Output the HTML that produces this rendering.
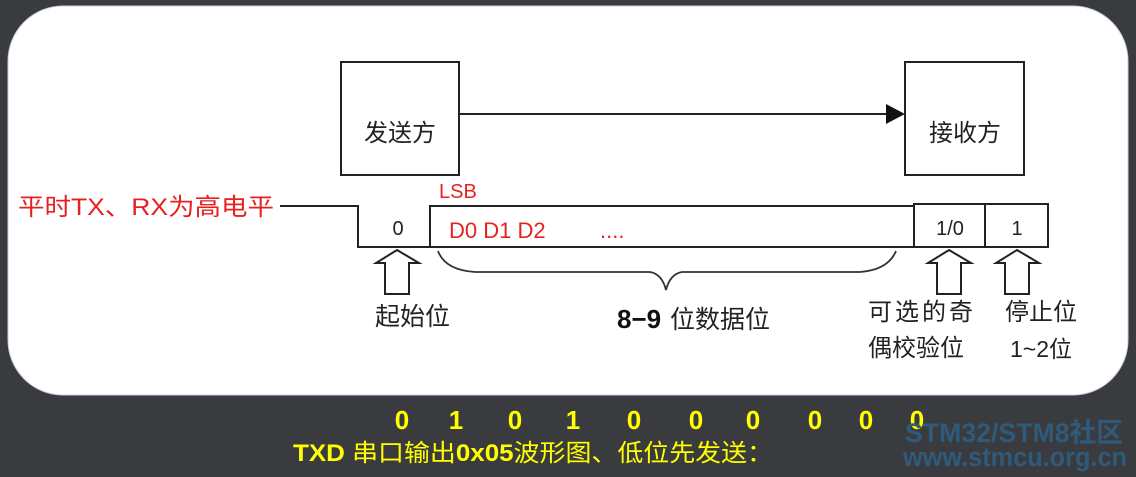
<!DOCTYPE html>
<html><head><meta charset="utf-8"><style>
html,body{margin:0;padding:0;background:#3a3b3f;width:1136px;height:477px;overflow:hidden}
svg{display:block}
text{font-family:"Liberation Sans","Noto Sans CJK SC",sans-serif}
</style></head><body>
<svg width="1136" height="477" viewBox="0 0 1136 477" xmlns="http://www.w3.org/2000/svg">
<rect x="0" y="0" width="1136" height="477" fill="#3a3b3f"/>
<rect x="8" y="6" width="1120" height="389" rx="55" ry="55" fill="#ffffff" stroke="#c8d0dc" stroke-width="1"/>
<g fill="none" stroke="#222" stroke-width="2">
<rect x="341" y="62" width="118" height="113"/>
<rect x="905" y="62" width="119" height="113"/>
<line x1="459" y1="114" x2="888" y2="114"/>
</g>
<polygon points="886,104 905,114 886,124" fill="#111"/>
<text x="400" y="141" font-size="24" text-anchor="middle" fill="#222">发送方</text>
<text x="965" y="141" font-size="24" text-anchor="middle" fill="#222">接收方</text>
<g fill="none" stroke="#222" stroke-width="2">
<polyline points="280,206 358,206 358,247 914,247"/>
<polyline points="430,247 430,206 914,206 914,247"/>
<rect x="914" y="204" width="71" height="43"/>
<rect x="985" y="204" width="63" height="43"/>
</g>
<text x="18" y="215" font-size="24" fill="#e82020" textLength="256" lengthAdjust="spacingAndGlyphs">平时TX、RX为高电平</text>
<text x="439" y="198" font-size="20" fill="#e82020">LSB</text>
<text x="449" y="238" font-size="22" fill="#e82020">D0 D1 D2</text>
<text x="600" y="238" font-size="22" fill="#e82020">....</text>
<text x="398" y="235" font-size="20" text-anchor="middle" fill="#222" font-family="Liberation Serif">0</text>
<text x="950" y="235" font-size="20" text-anchor="middle" fill="#222" font-family="Liberation Serif">1/0</text>
<text x="1017" y="235" font-size="20" text-anchor="middle" fill="#222" font-family="Liberation Serif">1</text>
<path d="M438,251 Q445,270 475,272 L650,272 Q662,274 666,290 Q670,274 682,272 L860,272 Q888,270 896,251" fill="none" stroke="#333" stroke-width="1.8"/>
<g fill="#fff" stroke="#222" stroke-width="2">
<polygon points="397,250 419,263 409,263 409,294 385,294 385,263 376,263"/>
<polygon points="949,250 971,263 961,263 961,294 937,294 937,263 928,263"/>
<polygon points="1017,250 1039,263 1029,263 1029,294 1005,294 1005,263 996,263"/>
</g>
<text x="375" y="325" font-size="25" fill="#222">起始位</text>
<text x="617" y="328" font-size="26" font-weight="bold" fill="#111">8−9</text>
<text x="670" y="328" font-size="25" fill="#222">位数据位</text>
<text x="868" y="320" font-size="24" fill="#222" letter-spacing="3">可选的奇</text>
<text x="868" y="356" font-size="24" fill="#222">偶校验位</text>
<text x="1005" y="320" font-size="24" fill="#222">停止位</text>
<text x="1010" y="357" font-size="23" fill="#222" font-family="Liberation Serif">1~2位</text>
<g font-size="26" font-weight="bold" fill="#ffff00" text-anchor="middle">
<text x="402" y="429">0</text><text x="456" y="429">1</text><text x="515" y="429">0</text><text x="573" y="429">1</text><text x="634" y="429">0</text><text x="696" y="429">0</text><text x="753" y="429">0</text><text x="815" y="429">0</text><text x="866" y="429">0</text><text x="917" y="429">0</text>
</g>
<text x="905" y="442" font-size="27" font-weight="bold" fill="#2f5a7a" textLength="218" lengthAdjust="spacingAndGlyphs">STM32/STM8社区</text>
<text x="903" y="466" font-size="27" font-weight="bold" fill="#2f5a7a" textLength="224" lengthAdjust="spacingAndGlyphs">www.stmcu.org.cn</text>
<text x="293" y="461" font-size="24" font-weight="bold" fill="#ffff00" textLength="480" lengthAdjust="spacingAndGlyphs">TXD <tspan font-weight="normal">串口输出</tspan>0x05<tspan font-weight="normal">波形图、低位先发送：</tspan></text>
</svg>
</body></html>
